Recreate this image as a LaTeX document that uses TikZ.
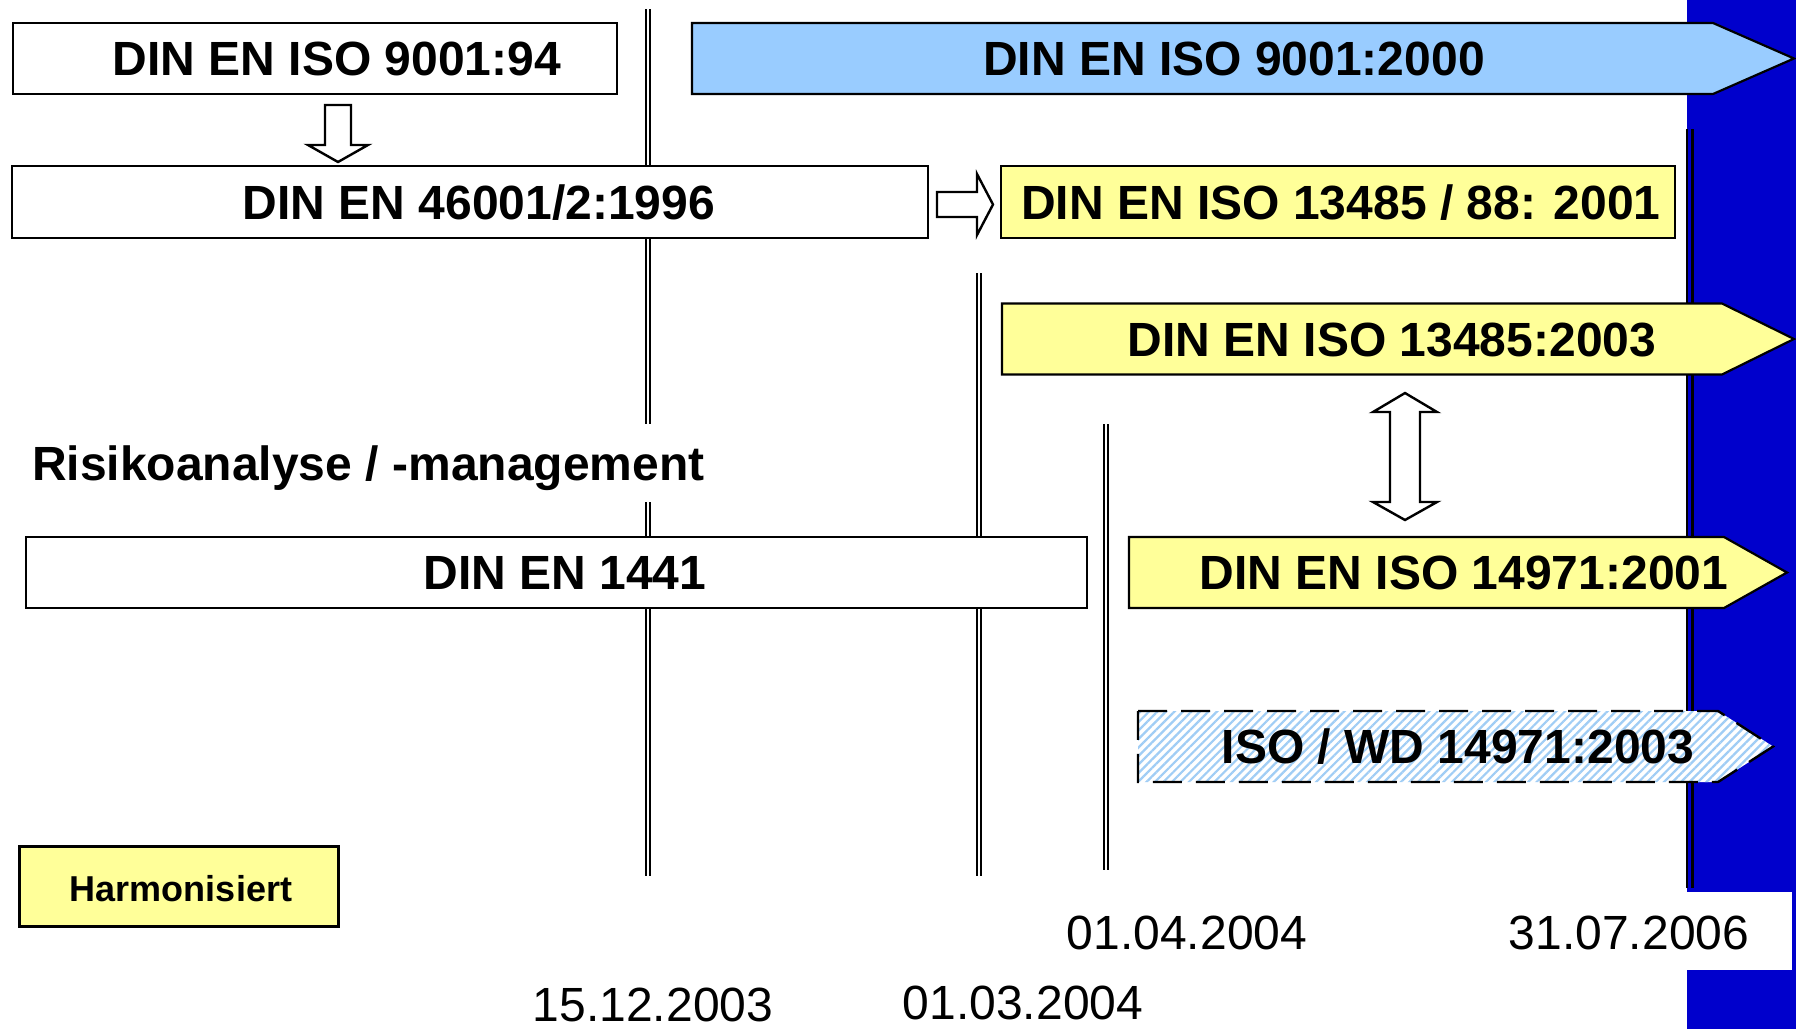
\documentclass[tikz,border=0pt]{standalone}
\usepackage{fontspec}
\setmainfont{Liberation Sans}
\usetikzlibrary{patterns.meta}
\definecolor{bandblue}{RGB}{0,0,204}
\definecolor{skyfill}{RGB}{153,204,255}
\definecolor{paleyellow}{RGB}{255,255,153}
\definecolor{hatchblue}{RGB}{160,205,245}

\begin{document}
\begin{tikzpicture}[x=1pt,y=-1pt,
  stdbox/.style={draw=black, line width=2.2pt, fill=white, inner sep=0pt},
  harmbox/.style={stdbox, fill=paleyellow},
  title/.style={font=\bfseries\fontsize{48}{56}\selectfont, inner sep=0pt,
                text height=34pt, text depth=0pt},
  smalltitle/.style={font=\bfseries\fontsize{36}{42}\selectfont, inner sep=0pt,
                text height=26pt, text depth=0pt},
  datelbl/.style={font=\fontsize{48}{56}\selectfont, inner sep=0pt,
                text height=34pt, text depth=0pt},
  timeline/.style={draw=black, line width=1.3pt, double=white, double distance=2.6pt},
  arrowbox/.style={draw=black, line width=2.2pt, line join=miter},
  hollow/.style={draw=black, line width=2.4pt, fill=white, line join=miter},
]
\useasboundingbox (0,0) rectangle (1796,1029);
\fill[white] (0,0) rectangle (1796,1029);

% blue band on the right
\fill[bandblue] (1687,0) rectangle (1796,1029);

% date markers (double vertical rules)
\coordinate (m1top) at (648,9);    \coordinate (m1bot) at (648,876);
\coordinate (m2top) at (979,273);  \coordinate (m2bot) at (979,876);
\coordinate (m3top) at (1106,424); \coordinate (m3bot) at (1106,870);
\draw[timeline] (m1top) -- (m1bot);
\draw[timeline] (m2top) -- (m2bot);
\draw[timeline] (m3top) -- (m3bot);
\coordinate (m4top) at (1687.3,129); \coordinate (m4bot) at (1687.3,888);
\draw[line width=2.3pt] (m4top) -- (m4bot);
\draw[line width=2.6pt] ([xshift=4.9pt]m4top) -- ([xshift=4.9pt]m4bot);

% date labels
\fill[white] (1500,892) rectangle (1792,970);
\node[datelbl] (d1) at (653,1004) {15.12.2003};
\node[datelbl] (d2) at (1023,1002) {01.03.2004};
\node[datelbl] (d3) at (1187,932) {01.04.2004};
\node[datelbl] (d4) at (1629,932) {31.07.2006};

% row 1
\node[stdbox, minimum width=604pt, minimum height=71pt] (b94) at (315,58.5) {};
\node[title] (t94) at (337,58.5) {DIN EN ISO 9001:94};
\path[arrowbox, fill=skyfill] (692,23) -- (1713,23) -- (1794,58.5) -- (1713,94) -- (692,94) -- cycle;
\node[title] (t2000) at (1234,58.5) {DIN EN ISO 9001:2000};

% hollow arrow from 9001:94 down to 46001
\path[hollow] (325,105) -- (351,105) -- (351,145) -- (368,145) -- (338,162)
  -- (308,145) -- (325,145) -- cycle;

% row 2
\node[stdbox, minimum width=916pt, minimum height=72pt] (b46) at (470,202) {};
\node[title] (t46) at (479,202) {DIN EN 46001/2:1996};
\node[stdbox, fill=paleyellow, minimum width=674pt, minimum height=72pt] (b88) at (1338,202) {};
\node[title] (t88) at (1341,202) {DIN EN ISO 13485 / 88: 2001};

% hollow arrow from 46001 to 13485/88
\path[hollow] (937,192) -- (977,192) -- (977,174) -- (993,204.5) -- (977,235)
  -- (977,217) -- (937,217) -- cycle;

% row 3
\path[arrowbox, fill=paleyellow] (1002,303.5) -- (1722,303.5) -- (1794,339) -- (1722,374.5) -- (1002,374.5) -- cycle;
\node[title] (t2003) at (1392,339) {DIN EN ISO 13485:2003};

% two-way hollow arrow between 13485:2003 and 14971:2001
\path[hollow] (1405,393) -- (1437,412) -- (1420,412) -- (1420,502) -- (1437,502)
  -- (1405,520) -- (1373,502) -- (1390,502) -- (1390,412) -- (1373,412) -- cycle;

% risk heading
\node[title, fill=white, anchor=west, inner ysep=22pt] (risk) at (32,463) {Risikoanalyse / -management};

% row 4
\node[stdbox, minimum width=1061pt, minimum height=71pt] (b1441) at (556.5,572.5) {};
\node[title] (t1441) at (565,572.5) {DIN EN 1441};
\path[arrowbox, fill=paleyellow] (1129,537) -- (1724,537) -- (1787,572.5) -- (1724,608) -- (1129,608) -- cycle;
\node[title] (t14971) at (1464,572.5) {DIN EN ISO 14971:2001};

% row 5: working draft, hatched and dashed
\path[fill=white] (1138,711) -- (1718,711) -- (1773,746.5) -- (1718,782) -- (1138,782) -- cycle;
\path[pattern={Lines[angle=45,distance=6pt,line width=2.2pt]}, pattern color=hatchblue]
  (1138,711) -- (1718,711) -- (1773,746.5) -- (1718,782) -- (1138,782) -- cycle;
\draw[line width=2.4pt, dash pattern=on 29pt off 14pt]
  (1138,711) -- (1718,711) -- (1773,746.5) -- (1718,782) -- (1138,782) -- cycle;
\node[title] (twd) at (1458,746.5) {ISO / WD 14971:2003};

% legend
\node[harmbox, minimum width=319pt, minimum height=80pt] (leg) at (179,886.5) {};
\node[smalltitle] (tleg) at (181,888.5) {Harmonisiert};
\end{tikzpicture}
\end{document}
